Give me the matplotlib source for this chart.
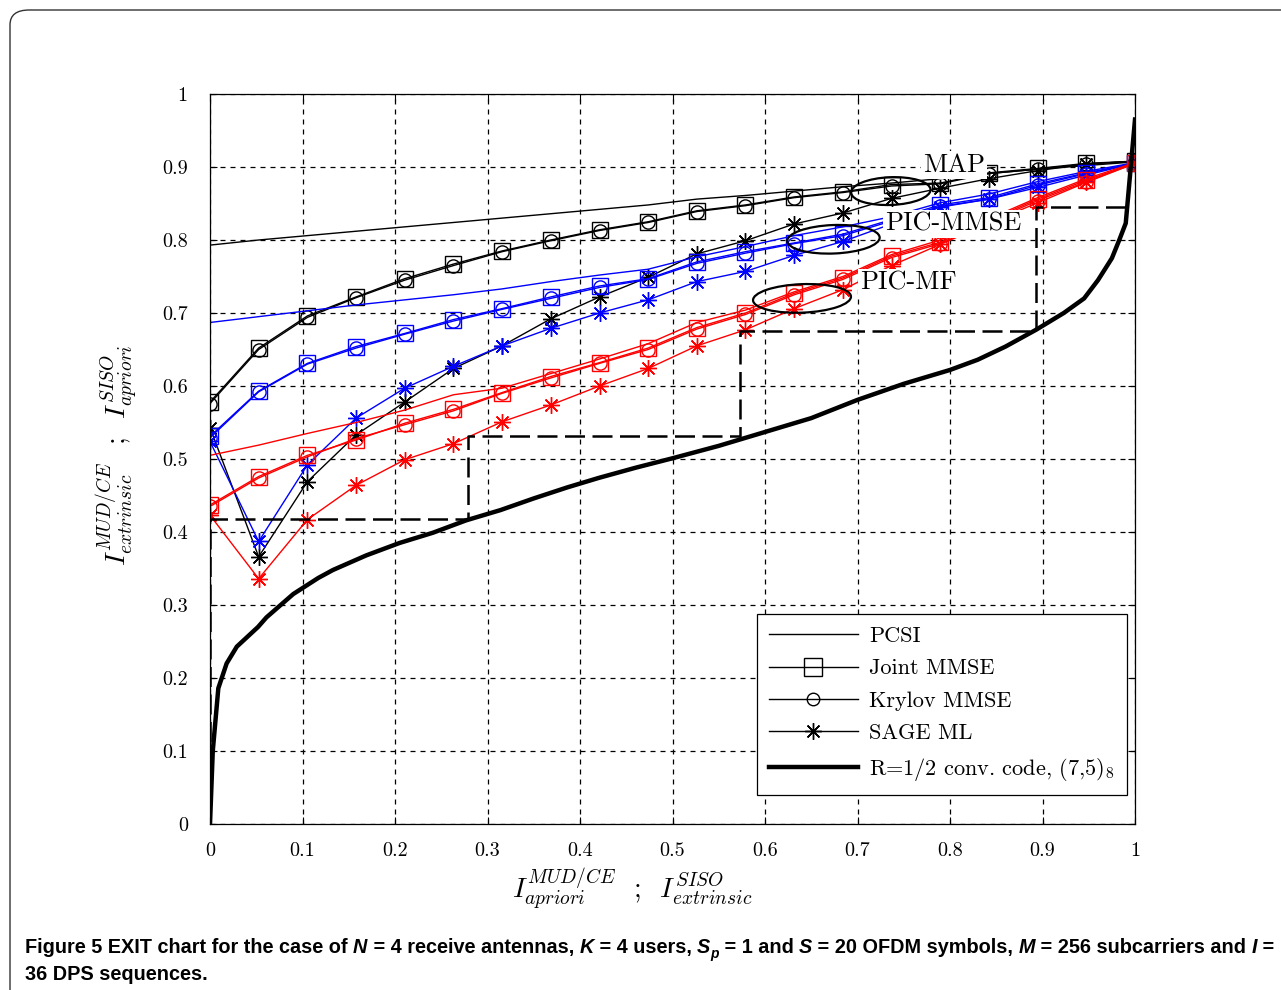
import matplotlib
matplotlib.use('Agg')
import matplotlib.pyplot as plt
from matplotlib.lines import Line2D
from matplotlib.patches import Ellipse, FancyBboxPatch

plt.rcParams['font.family'] = 'cmr10'
plt.rcParams['mathtext.fontset'] = 'cm'
plt.rcParams['axes.formatter.use_mathtext'] = True

# --- datos ---
x_apriori = [0, 0.0526, 0.1053, 0.1579, 0.2105, 0.2632, 0.3158, 0.3684, 0.4211, 0.4737,
             0.5263, 0.5789, 0.6316, 0.6842, 0.7368, 0.7895, 0.8421, 0.8947, 0.9474, 1.0]

# MAP (negro)
map_pcsi = [0.793, 0.800, 0.806, 0.812, 0.818, 0.824, 0.830, 0.836, 0.842, 0.848,
            0.856, 0.861, 0.867, 0.873, 0.878, 0.884, 0.891, 0.897, 0.902, 0.907]
map_joint = [0.578, 0.652, 0.696, 0.722, 0.747, 0.767, 0.785, 0.800, 0.814, 0.825,
             0.840, 0.848, 0.859, 0.866, 0.876, 0.878, 0.892, 0.898, 0.905, 0.908]
map_krylov = [0.576, 0.650, 0.694, 0.721, 0.745, 0.765, 0.784, 0.799, 0.813, 0.824,
              0.839, 0.847, 0.858, 0.865, 0.874, 0.877, 0.891, 0.897, 0.904, 0.908]
map_sage = [0.543, 0.366, 0.469, 0.533, 0.578, 0.624, 0.655, 0.692, 0.722, 0.749,
            0.781, 0.799, 0.822, 0.837, 0.857, 0.871, 0.884, 0.895, 0.904, 0.908]

# PIC-MMSE (azul)
pmmse_pcsi = [0.687, 0.695, 0.703, 0.711, 0.718, 0.725, 0.733, 0.743, 0.752, 0.760,
              0.777, 0.791, 0.806, 0.818, 0.832, 0.851, 0.863, 0.880, 0.894, 0.906]
pmmse_joint = [0.531, 0.593, 0.631, 0.654, 0.672, 0.691, 0.706, 0.722, 0.737, 0.747,
               0.770, 0.784, 0.796, 0.808, 0.828, 0.848, 0.858, 0.877, 0.892, 0.905]
pmmse_krylov = [0.529, 0.592, 0.630, 0.652, 0.671, 0.689, 0.705, 0.720, 0.735, 0.746,
                0.768, 0.782, 0.795, 0.806, 0.826, 0.846, 0.856, 0.875, 0.891, 0.905]
pmmse_sage = [0.524, 0.387, 0.492, 0.556, 0.597, 0.627, 0.655, 0.679, 0.700, 0.718,
              0.743, 0.757, 0.779, 0.798, 0.822, 0.845, 0.856, 0.872, 0.889, 0.905]

# PIC-MF (rojo)
pmf_pcsi = [0.505, 0.519, 0.535, 0.550, 0.567, 0.588, 0.597, 0.617, 0.637, 0.658,
            0.687, 0.704, 0.729, 0.750, 0.780, 0.800, 0.829, 0.858, 0.884, 0.906]
pmf_joint = [0.437, 0.476, 0.505, 0.526, 0.549, 0.568, 0.591, 0.613, 0.632, 0.652,
             0.680, 0.700, 0.727, 0.748, 0.778, 0.797, 0.827, 0.856, 0.882, 0.905]
pmf_krylov = [0.435, 0.474, 0.503, 0.528, 0.547, 0.566, 0.590, 0.611, 0.631, 0.650,
              0.678, 0.698, 0.725, 0.746, 0.776, 0.795, 0.825, 0.854, 0.880, 0.905]
pmf_sage = [0.423, 0.336, 0.417, 0.464, 0.499, 0.521, 0.551, 0.574, 0.600, 0.624,
            0.655, 0.677, 0.706, 0.732, 0.765, 0.794, 0.823, 0.851, 0.879, 0.905]

# curva del decodificador (ejes invertidos)
dec_x = [0, 0.003, 0.009, 0.018, 0.029, 0.052, 0.061, 0.09, 0.117, 0.133, 0.169, 0.205,
         0.241, 0.277, 0.314, 0.35, 0.386, 0.42, 0.46, 0.50, 0.55, 0.60, 0.65, 0.70,
         0.75, 0.80, 0.83, 0.86, 0.893, 0.923, 0.945, 0.96, 0.975, 0.983, 0.99, 0.994, 1.0]
dec_y = [0, 0.10, 0.186, 0.22, 0.243, 0.270, 0.283, 0.315, 0.337, 0.348, 0.368, 0.385,
         0.399, 0.416, 0.430, 0.446, 0.461, 0.474, 0.488, 0.501, 0.518, 0.537, 0.556, 0.581,
         0.603, 0.622, 0.636, 0.654, 0.677, 0.70, 0.72, 0.745, 0.775, 0.80, 0.823, 0.88, 0.965]

# trayectoria
traj_x = [0, 0, 0.279, 0.279, 0.573, 0.573, 0.893, 0.893, 0.993]
traj_y = [0, 0.418, 0.418, 0.531, 0.531, 0.676, 0.676, 0.845, 0.845]

tick_vals = [0, 0.1, 0.2, 0.3, 0.4, 0.5, 0.6, 0.7, 0.8, 0.9, 1]
tick_labels = ['0', '0.1', '0.2', '0.3', '0.4', '0.5', '0.6', '0.7', '0.8', '0.9', '1']

# --- figura ---
fig = plt.figure(figsize=(12.81, 9.9), dpi=100)
ax = fig.add_axes([210/1281, 166/990, 925/1281, 730/990])

asterisk = (8, 2, 0)
groups = [
    ('black', map_pcsi, map_joint, map_krylov, map_sage),
    ('blue', pmmse_pcsi, pmmse_joint, pmmse_krylov, pmmse_sage),
    ('red', pmf_pcsi, pmf_joint, pmf_krylov, pmf_sage),
]
for color, pcsi, joint, kry, sage in groups:
    ax.plot(x_apriori, pcsi, color=color, lw=1.0)
    ax.plot(x_apriori, joint, color=color, lw=1.0, marker='s', ms=11.5,
            mfc='none', mew=1.0)
    ax.plot(x_apriori, kry, color=color, lw=1.0, marker='o', ms=9.5,
            mfc='none', mew=1.0)
    ax.plot(x_apriori, sage, color=color, lw=1.0, marker=asterisk, ms=12, mew=1.0)

ax.plot(dec_x, dec_y, color='black', lw=3.2)
ax.plot(traj_x, traj_y, color='black', lw=1.8, ls=(0, (8, 3)))

# elipses y etiquetas
for (cx, cy, w, h) in [(0.736, 0.867, 0.086, 0.038), (0.674, 0.801, 0.100, 0.039),
                       (0.640, 0.720, 0.106, 0.039)]:
    ax.add_patch(Ellipse((cx, cy), w, h, angle=3, fill=False, ec='black', lw=1.6, zorder=4))

box = dict(facecolor='white', edgecolor='none', pad=1.5)
ax.text(0.771, 0.903, 'MAP', fontsize=19, va='center', ha='left', bbox=box, zorder=5)
ax.text(0.730, 0.822, 'PIC-MMSE', fontsize=19, va='center', ha='left', bbox=box, zorder=5)
ax.text(0.703, 0.741, 'PIC-MF', fontsize=19, va='center', ha='left', bbox=box, zorder=5)

ax.set_xlim(0, 1)
ax.set_ylim(0, 1)
ax.set_xticks(tick_vals)
ax.set_xticklabels(tick_labels)
ax.set_yticks(tick_vals)
ax.set_yticklabels(tick_labels)
ax.tick_params(direction='in', top=True, right=True, length=5, labelsize=14.5)
ax.tick_params(axis='x', pad=13)
ax.tick_params(axis='y', pad=16)
ax.grid(True, color='black', ls=(0, (4, 4)), lw=0.9)
for s in ax.spines.values():
    s.set_linewidth(0.9)

ax.set_xlabel(r'$I^{MUD/CE}_{apriori}$  ;  $I^{SISO}_{extrinsic}$', fontsize=20)
ax.xaxis.set_label_coords(0.456, -0.058)
ax.set_ylabel(r'$I^{MUD/CE}_{extrinsic}$  ;  $I^{SISO}_{apriori}$', fontsize=20)
ax.yaxis.set_label_coords(-0.075, 0.505)

handles = [
    Line2D([], [], color='black', lw=1.0),
    Line2D([], [], color='black', lw=1.0, marker='s', ms=13, mfc='none'),
    Line2D([], [], color='black', lw=1.0, marker='o', ms=9, mfc='none'),
    Line2D([], [], color='black', lw=1.0, marker=asterisk, ms=12),
    Line2D([], [], color='black', lw=3.2),
]
labels = ['PCSI', 'Joint MMSE', 'Krylov MMSE', 'SAGE ML', r'R=1/2 conv. code, (7,5)$_8$']
leg = ax.legend(handles, labels, loc='lower right', bbox_to_anchor=(1.003, 0.024),
                fontsize=16, handlelength=4.0, handletextpad=0.5, labelspacing=0.58,
                borderpad=0.55, fancybox=False, framealpha=1, edgecolor='black')
leg.get_frame().set_linewidth(0.9)

# marco redondeado
fig.patches.append(FancyBboxPatch((10/1281, -0.1), 1.2, 1.1 - 10/990,
                                  boxstyle='round,pad=0,rounding_size=0.015',
                                  transform=fig.transFigure, fill=False,
                                  ec='#333333', lw=1.0))

# pie de figura
cap_font = 'Liberation Sans'
renderer = fig.canvas.get_renderer()


def put_line(x0, y0, pieces, size):
    x = x0
    made = []
    for txt, italic, dy in pieces:
        t = fig.text(x, y0 + dy, txt, fontsize=size if dy == 0 else size * 0.7,
                     family=cap_font, weight='bold',
                     style='italic' if italic else 'normal', va='baseline')
        made.append(t)
        x += t.get_window_extent(renderer).width / fig.bbox.width
    return x, made


line1 = [('Figure 5 EXIT chart for the case of ', False, 0), ('N', True, 0),
         (' = 4 receive antennas, ', False, 0), ('K', True, 0), (' = 4 users, ', False, 0),
         ('S', True, 0), ('p', True, -0.005), (' = 1 and ', False, 0), ('S', True, 0),
         (' = 20 OFDM symbols, ', False, 0), ('M', True, 0),
         (' = 256 subcarriers and ', False, 0), ('I', True, 0), (' =', False, 0)]

# ajustar el tamano para que la primera linea quepa en el ancho
cap_size = 14.5
x_end, tmp = put_line(25/1281, 1 - 953/990, line1, cap_size)
for t in tmp:
    t.remove()
cap_size = cap_size * (1276/1281 - 25/1281) / (x_end - 25/1281)
put_line(25/1281, 1 - 953/990, line1, cap_size)
put_line(25/1281, 1 - 980/990, [('36 DPS sequences.', False, 0)], cap_size)

fig.savefig('out.png', dpi=100)
